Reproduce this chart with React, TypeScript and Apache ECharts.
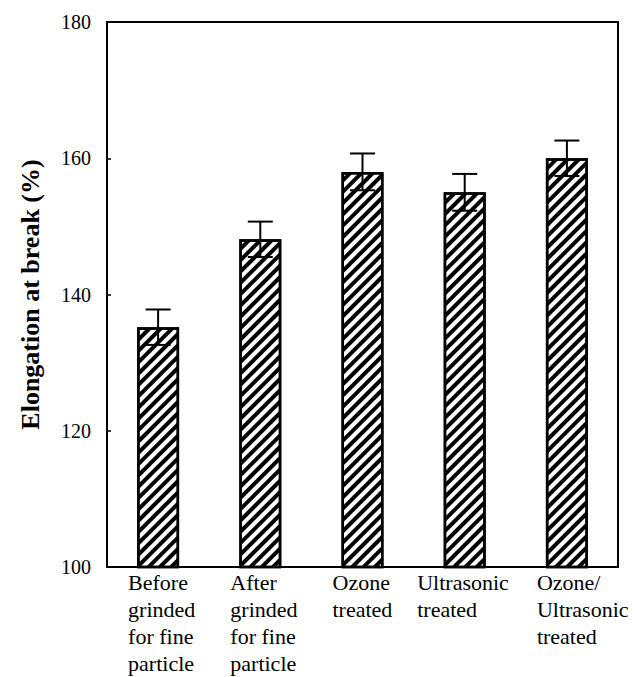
import React, { useEffect, useRef } from "react";
import * as echarts from "echarts";

const categories = [
  "Before\ngrinded\nfor fine\nparticle",
  "After\ngrinded\nfor fine\nparticle",
  "Ozone\ntreated",
  "Ultrasonic\ntreated",
  "Ozone/\nUltrasonic\ntreated",
];
const labelStyleKeys = ["a", "a", "a", "b", "a"];
const elongation = [135.2, 148.1, 158.0, 155.0, 160.0];
const errors = [2.6, 2.6, 2.7, 2.7, 2.6];
const yTicks = { min: 100, max: 180, interval: 20 };

const FONT = "'Liberation Serif', 'Times New Roman', serif";

export default function App() {
  const ref = useRef<HTMLDivElement>(null);
  useEffect(() => {
    if (!ref.current) return;
    const chart = echarts.init(ref.current, null, { renderer: "svg" });
    const errData = elongation.map((v, i) => [i, v, errors[i]]);
    chart.setOption({
      animation: false,
      backgroundColor: "#fff",
      textStyle: { fontFamily: FONT, color: "#000" },
      grid: {
        left: 107,
        right: 17,
        top: 22,
        bottom: 108,
        show: true,
        borderColor: "#000",
        borderWidth: 2,
        backgroundColor: "transparent",
      },
      xAxis: {
        type: "category",
        data: categories,
        axisLine: { show: true, lineStyle: { color: "#000", width: 2 } },
        axisTick: { show: false },
        axisLabel: {
          interval: 0,
          margin: 2,
          color: "#000",
          fontFamily: FONT,
          fontSize: 22,
          lineHeight: 27,
          formatter: (val: string, idx: number) => {
            const k = labelStyleKeys[idx];
            return val
              .split("\n")
              .map((l) => `{${k}|${l}}`)
              .join("\n");
          },
          rich: {
            a: { width: 60, align: "left", fontFamily: FONT, fontSize: 22, lineHeight: 27, color: "#000" },
            b: { width: 95, align: "left", fontFamily: FONT, fontSize: 22, lineHeight: 27, color: "#000" },
          },
        },
      },
      yAxis: {
        type: "value",
        min: yTicks.min,
        max: yTicks.max,
        interval: yTicks.interval,
        name: "Elongation at break (%)",
        nameLocation: "middle",
        nameGap: 64,
        nameTextStyle: {
          fontFamily: FONT,
          fontWeight: "bold",
          fontSize: 26,
          color: "#000",
        },
        axisLine: { show: true, lineStyle: { color: "#000", width: 2 } },
        axisTick: { show: true, inside: true, length: 4, lineStyle: { color: "#000", width: 1.5 } },
        splitLine: { show: false },
        axisLabel: {
          margin: 16,
          color: "#000",
          fontFamily: FONT,
          fontSize: 20,
        },
      },
      series: [
        {
          type: "bar",
          data: elongation,
          barWidth: 42,
          itemStyle: {
            color: "#fff",
            borderColor: "#000",
            borderWidth: 2.5,
            decal: {
              symbol: "rect",
              color: "#000",
              dashArrayX: [1, 0],
              dashArrayY: [3.5, 3.5],
              rotation: -Math.PI / 4,
            },
          },
          z: 2,
        },
        {
          type: "custom",
          data: errData,
          z: 3,
          renderItem: (params: any, api: any) => {
            const x = api.value(0);
            const v = api.value(1);
            const e = api.value(2);
            const top = api.coord([x, v + e]);
            const bot = api.coord([x, v - e]);
            const hw = 12.5;
            const style = { stroke: "#000", lineWidth: 2 };
            return {
              type: "group",
              children: [
                { type: "line", shape: { x1: top[0], y1: top[1], x2: bot[0], y2: bot[1] }, style },
                { type: "line", shape: { x1: top[0] - hw, y1: top[1], x2: top[0] + hw, y2: top[1] }, style },
                { type: "line", shape: { x1: bot[0] - hw, y1: bot[1], x2: bot[0] + hw, y2: bot[1] }, style },
              ],
            };
          },
        },
      ],
    });
    return () => chart.dispose();
  }, []);
  return (
    <div
      ref={ref}
      style={{ position: "fixed", left: 0, top: 0, width: 635, height: 677, background: "#fff" }}
    />
  );
}
